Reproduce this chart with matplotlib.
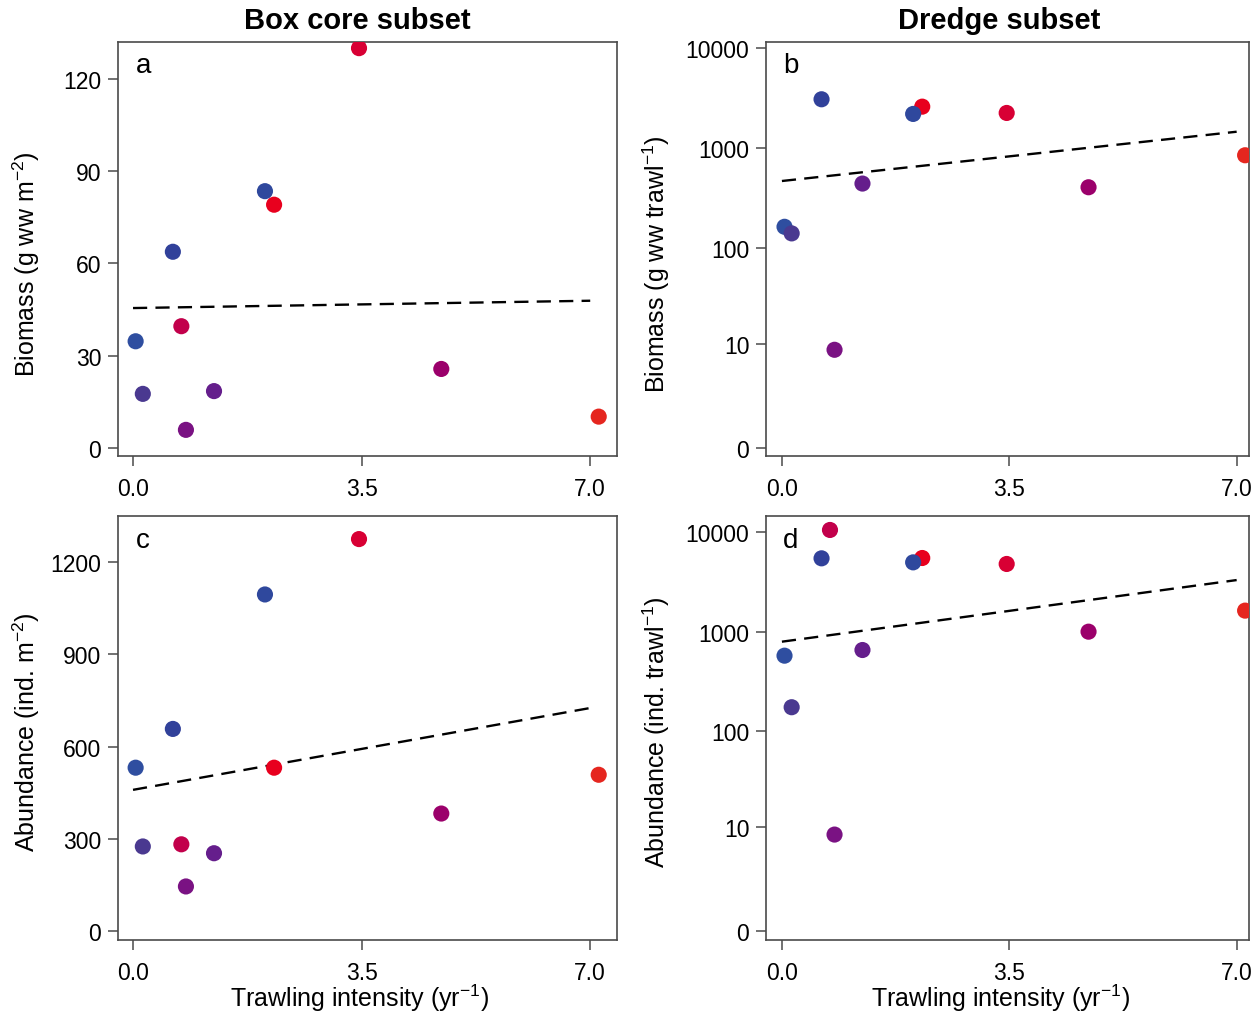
import numpy as np
import matplotlib
matplotlib.use("Agg")
import matplotlib.pyplot as plt

plt.rcParams['font.family'] = ['Liberation Sans', 'DejaVu Sans']
plt.rcParams['mathtext.fontset'] = 'custom'
plt.rcParams['mathtext.rm'] = 'Liberation Sans'
plt.rcParams['mathtext.it'] = 'Liberation Sans'

# trawling intensity per station (yr-1) and station colours
trawl = [0.04, 0.15, 0.61, 0.74, 0.81, 1.24, 2.02, 2.16, 3.46, 4.72, 7.13]
colors = ['#2F4EA0', '#4A3990', '#31419A', '#C2004B', '#7A1283', '#651E8C',
          '#2F489D', '#E8001E', '#D80034', '#9B006B', '#E5261F']

biomass_box = [34.7, 17.6, 63.8, 39.6, 5.9, 18.5, 83.5, 79.1, 130.0, 25.7, 10.2]
abund_box = [532, 276, 658, 283, 146, 254, 1095, 532, 1275, 383, 509]
biomass_dredge = [162, 139, 3070, np.nan, 8.6, 440, 2190, 2590, 2240, 404, 845]
abund_dredge = [573, 174, 5410, 10400, 8.3, 653, 4930, 5450, 4750, 997, 1620]

# drawing order for the dredge panels (blue over red near x=2)
dredge_order = [0, 1, 2, 3, 4, 5, 7, 6, 8, 9, 10]

# fitted lines: intercept, slope (dredge fits on log10(y+1))
fit_a = (45.5, 0.34)
fit_c = (460.0, 38.0)
fit_b = (2.67, 0.0704)
fit_d = (2.899, 0.0881)

xticks = [0, 3.5, 7.0]
xticklabels = ['0.0', '3.5', '7.0']
yticks_a = [0, 30, 60, 90, 120]
yticks_c = [0, 300, 600, 900, 1200]
yticks_log = [0, 10, 100, 1000, 10000]


def fwd(y):
    return np.log10(np.clip(y, -0.99, None) + 1)


def inv(t):
    return 10 ** t - 1


fig = plt.figure(figsize=(12.51, 10.12), dpi=100)
W, H = 1251.0, 1012.0


def make_ax(l, t, r, b):
    return fig.add_axes([l / W, 1 - b / H, (r - l) / W, (b - t) / H])


def label(x, y, s, rot=0, **kw):
    fig.text(x / W, 1 - y / H, s, ha='center', va='center', rotation=rot,
             fontsize=18, **kw)


ax_a = make_ax(118, 43, 617, 457)
ax_b = make_ax(766, 43, 1249, 457)
ax_c = make_ax(118, 517, 617, 941)
ax_d = make_ax(766, 517, 1249, 941)

xfit = np.linspace(0, 7.0, 60)
spine_col = '#4a4a4a'


def style(ax, yticks, letter):
    for s in ax.spines.values():
        s.set_color(spine_col)
        s.set_linewidth(1.2)
    ax.set_xticks(xticks)
    ax.set_xticklabels(xticklabels)
    ax.set_yticks(yticks)
    ax.set_yticklabels([str(v) for v in yticks])
    ax.tick_params(axis='both', direction='out', length=7, width=1.1,
                   color=spine_col, labelsize=16.5)
    ax.tick_params(axis='x', pad=8)
    ax.tick_params(axis='y', pad=5)
    ax.minorticks_off()
    ax.text(0.035, 0.975, letter, transform=ax.transAxes, ha='left', va='top',
            fontsize=20)


# panel a
ax_a.scatter(trawl, biomass_box, s=135, c=colors, edgecolors='none', zorder=3)
ax_a.plot(xfit, fit_a[0] + fit_a[1] * xfit, color='black', lw=1.7,
          dashes=(6, 3.5), zorder=2)
ax_a.set_xlim(-0.23, 7.41)
ax_a.set_ylim(-2.6, 132)
style(ax_a, yticks_a, 'a')

# panel c
ax_c.scatter(trawl, abund_box, s=135, c=colors, edgecolors='none', zorder=3)
ax_c.plot(xfit, fit_c[0] + fit_c[1] * xfit, color='black', lw=1.7,
          dashes=(6, 3.5), zorder=2)
ax_c.set_xlim(-0.23, 7.41)
ax_c.set_ylim(-28, 1350)
style(ax_c, yticks_c, 'c')

# panels b and d
for ax, vals, fit, letter, ylim in [
        (ax_b, biomass_dredge, fit_b, 'b', (-0.168, 11480)),
        (ax_d, abund_dredge, fit_d, 'd', (-0.181, 14350))]:
    ax.set_yscale('function', functions=(fwd, inv))
    xs = [trawl[i] for i in dredge_order]
    ys = [vals[i] for i in dredge_order]
    cs = [colors[i] for i in dredge_order]
    ax.scatter(xs, ys, s=135, c=cs, edgecolors='none', zorder=3)
    ax.plot(xfit, inv(fit[0] + fit[1] * xfit), color='black', lw=1.7,
            dashes=(6, 3.5), zorder=2)
    ax.set_xlim(-0.245, 7.19)
    ax.set_ylim(*ylim)
    style(ax, yticks_log, letter)

# axis labels
label(26, 264, 'Biomass (g ww m$^{-2}$)', rot=90)
label(656, 264, 'Biomass (g ww trawl$^{-1}$)', rot=90)
label(26, 732, 'Abundance (ind. m$^{-2}$)', rot=90)
label(656, 732, 'Abundance (ind. trawl$^{-1}$)', rot=90)
label(359, 998, 'Trawling intensity (yr$^{-1}$)')
label(1000, 998, 'Trawling intensity (yr$^{-1}$)')

fig.text(357 / W, 1 - 21 / H, 'Box core subset', ha='center', va='center',
         fontsize=21, fontweight='bold')
fig.text(999 / W, 1 - 21 / H, 'Dredge subset', ha='center', va='center',
         fontsize=21, fontweight='bold')

fig.savefig('out.png', dpi=100)
